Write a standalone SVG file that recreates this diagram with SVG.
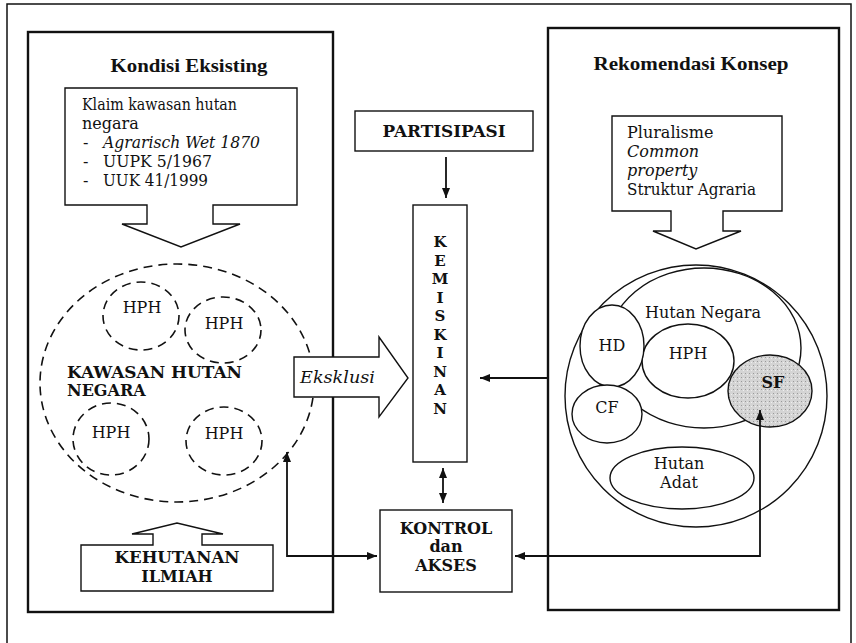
<svg xmlns="http://www.w3.org/2000/svg" width="856" height="643" viewBox="0 0 856 643">
  <style>
    .frame { fill: none; stroke: #111; stroke-width: 1.5; }
    .panel { fill: #fff; stroke: #111; stroke-width: 2.4; }
    .box { fill: #fff; stroke: #111; stroke-width: 1.4; }
    .dash { fill: #fff; stroke: #111; stroke-width: 1.6; stroke-dasharray: 9 6; }
    .ring { fill: #fff; stroke: #111; stroke-width: 1.4; }
    .line { fill: none; stroke: #111; stroke-width: 1.8; }
    text { font-family: "DejaVu Serif", "Liberation Serif", serif; fill: #111; }
    .t { font-size: 16px; }
    .it { font-size: 16px; font-style: italic; }
    .b { font-size: 16px; font-weight: bold; }
    .v { font-size: 15px; font-weight: bold; text-anchor: middle; }
    .h { font-family: "Liberation Serif", serif; font-size: 19px; font-weight: bold; }
    .c { text-anchor: middle; }
  </style>
  <defs>
    <marker id="head" viewBox="0 0 10 8" refX="10" refY="4" markerWidth="10" markerHeight="8" markerUnits="userSpaceOnUse" orient="auto-start-reverse">
      <path d="M0,0 L10,4 L0,8 Z" fill="#111"/>
    </marker>
    <pattern id="stipple" width="4" height="4" patternUnits="userSpaceOnUse">
      <rect width="4" height="4" fill="#d4d4d4"/>
      <rect x="1" y="1" width="1" height="1" fill="#9a9a9a"/>
      <rect x="3" y="2" width="1" height="1" fill="#eeeeee"/>
    </pattern>
  </defs>

  <rect width="856" height="643" fill="#fff"/>
  <!-- page frame -->
  <rect class="frame" x="7" y="4" width="844" height="660"/>

  <!-- left panel: existing condition -->
  <g id="kondisi-eksisting">
    <rect class="panel" x="28" y="32" width="305" height="580"/>
    <text class="h c" x="189" y="72" textLength="157" lengthAdjust="spacingAndGlyphs">Kondisi Eksisting</text>
  </g>

  <!-- right panel: recommended concept -->
  <g id="rekomendasi-konsep">
    <rect class="panel" x="548" y="28" width="291" height="582"/>
    <text class="h c" x="691" y="70" textLength="195" lengthAdjust="spacingAndGlyphs">Rekomendasi Konsep</text>
  </g>

  <g id="klaim">
    <path class="box" d="M65,88 H297 V205 H213 V224 H240 L181,247 L122,224 H147 V205 H65 Z"/>
    <text class="t" x="82" y="110" textLength="155" lengthAdjust="spacingAndGlyphs">Klaim kawasan hutan</text>
    <text class="t" x="82" y="129">negara</text>
    <text class="t" x="83" y="148">-</text>
    <text class="it" x="103" y="148" textLength="157" lengthAdjust="spacingAndGlyphs">Agrarisch Wet 1870</text>
    <text class="t" x="83" y="167">-</text>
    <text class="t" x="103" y="167" textLength="109" lengthAdjust="spacingAndGlyphs">UUPK 5/1967</text>
    <text class="t" x="83" y="186">-</text>
    <text class="t" x="103" y="186" textLength="105" lengthAdjust="spacingAndGlyphs">UUK 41/1999</text>
  </g>

  <g id="kawasan-hutan-negara">
    <ellipse class="dash" cx="177" cy="383" rx="137" ry="119"/>
    <text class="b" x="67" y="378" textLength="175" lengthAdjust="spacingAndGlyphs">KAWASAN HUTAN</text>
    <text class="b" x="67" y="396">NEGARA</text>
  </g>
  <g id="hph-1">
    <ellipse class="dash" cx="141" cy="316" rx="38" ry="34"/>
    <text class="t c" x="142" y="313">HPH</text>
  </g>
  <g id="hph-2">
    <ellipse class="dash" cx="223" cy="330" rx="38" ry="33"/>
    <text class="t c" x="224" y="329">HPH</text>
  </g>
  <g id="hph-3">
    <ellipse class="dash" cx="111" cy="439" rx="38" ry="36"/>
    <text class="t c" x="111" y="438">HPH</text>
  </g>
  <g id="hph-4">
    <ellipse class="dash" cx="224" cy="441" rx="38" ry="34"/>
    <text class="t c" x="224" y="439">HPH</text>
  </g>

  <g id="kehutanan-ilmiah">
    <path class="box" d="M81,545 H153 V534 H132 L177,523 L223,534 H202 V545 H273 V591 H81 Z"/>
    <text class="b c" x="177" y="563" textLength="125" lengthAdjust="spacingAndGlyphs">KEHUTANAN</text>
    <text class="b c" x="177" y="582">ILMIAH</text>
  </g>

  <g id="eksklusi">
    <path class="box" d="M294,357 H379 V337 L408,378 L379,417 V397 H294 Z"/>
    <text class="it" x="300" y="383" textLength="75" lengthAdjust="spacingAndGlyphs">Eksklusi</text>
  </g>

  <g id="partisipasi">
    <rect class="box" x="355" y="111" width="178" height="40"/>
    <text class="b c" x="444" y="137" textLength="123" lengthAdjust="spacingAndGlyphs">PARTISIPASI</text>
  </g>

  <!-- vertical word, one letter per line -->
  <g id="kemiskinan">
    <rect class="box" x="413" y="205" width="54" height="257"/>
    <text class="v" x="440" y="247">K</text>
    <text class="v" x="440" y="265.5">E</text>
    <text class="v" x="440" y="284">M</text>
    <text class="v" x="440" y="302.5">I</text>
    <text class="v" x="440" y="321">S</text>
    <text class="v" x="440" y="339.5">K</text>
    <text class="v" x="440" y="358">I</text>
    <text class="v" x="440" y="376.5">N</text>
    <text class="v" x="440" y="395">A</text>
    <text class="v" x="440" y="413.5">N</text>
  </g>

  <g id="kontrol-akses">
    <rect class="box" x="380" y="510" width="132" height="82"/>
    <text class="b c" x="446" y="534">KONTROL</text>
    <text class="b c" x="446" y="552">dan</text>
    <text class="b c" x="446" y="571">AKSES</text>
  </g>

  <g id="pluralisme">
    <path class="box" d="M612,116 H782 V211 H723 V231 H741 L696,249 L653,231 H671 V211 H612 Z"/>
    <text class="t" x="627" y="138">Pluralisme</text>
    <text class="it" x="627" y="157">Common</text>
    <text class="it" x="627" y="176">property</text>
    <text class="t" x="627" y="195" textLength="129" lengthAdjust="spacingAndGlyphs">Struktur Agraria</text>
  </g>

  <g id="konsep-hutan">
    <circle class="ring" cx="696" cy="396" r="131"/>
    <g id="hutan-negara">
      <ellipse class="ring" cx="704" cy="348" rx="97" ry="80"/>
      <text class="t c" x="703" y="318">Hutan Negara</text>
    </g>
    <g id="hph-negara">
      <ellipse class="ring" cx="688" cy="361" rx="46" ry="37"/>
      <text class="t c" x="688" y="359">HPH</text>
    </g>
    <g id="hd">
      <ellipse class="ring" cx="612" cy="346" rx="32" ry="41"/>
      <text class="t c" x="612" y="351">HD</text>
    </g>
    <g id="cf">
      <ellipse class="ring" cx="607" cy="414" rx="35" ry="29"/>
      <text class="t c" x="607" y="413">CF</text>
    </g>
    <g id="sf">
      <ellipse cx="770" cy="391" rx="42" ry="36" fill="url(#stipple)" stroke="#111" stroke-width="1.4"/>
      <text class="b c" x="773" y="388">SF</text>
    </g>
    <g id="hutan-adat">
      <ellipse class="ring" cx="682" cy="478" rx="72" ry="31"/>
      <text class="t c" x="679" y="469">Hutan</text>
      <text class="t c" x="679" y="488">Adat</text>
    </g>
  </g>

  <!-- connectors -->
  <g id="connectors">
    <line class="line" x1="446" y1="157" x2="446" y2="198" marker-end="url(#head)"/>
    <line class="line" x1="548" y1="378" x2="480" y2="378" marker-end="url(#head)"/>
    <line class="line" x1="443" y1="468" x2="443" y2="503" marker-start="url(#head)" marker-end="url(#head)"/>
    <polyline class="line" points="287,452 287,556 377,556" marker-start="url(#head)" marker-end="url(#head)"/>
    <polyline class="line" points="760,410 760,556 515,556" marker-start="url(#head)" marker-end="url(#head)"/>
  </g>
</svg>
